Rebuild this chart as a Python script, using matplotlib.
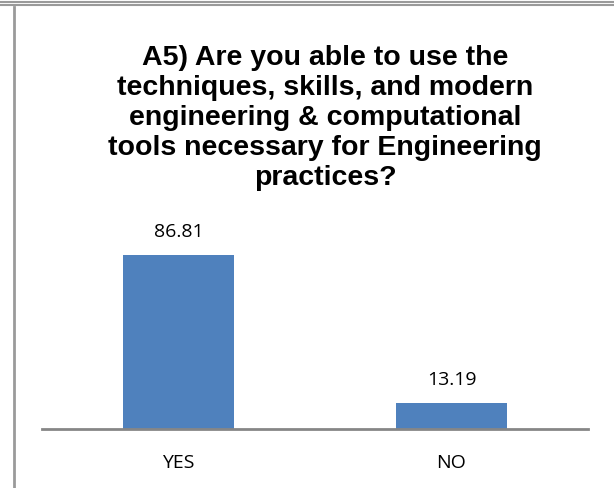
import matplotlib.pyplot as plt
from matplotlib.lines import Line2D

categories = ["YES", "NO"]
values = [86.81, 13.19]
title = ("A5) Are you able to use the\ntechniques, skills, and modern\n"
         "engineering & computational\ntools necessary for Engineering\npractices?")

W, H = 614, 488
fig = plt.figure(figsize=(W / 100, H / 100), dpi=100)
fig.patch.set_facecolor("white")

# frame lines from the original screenshot
fig.add_artist(Line2D([0, 1], [1 - 2 / H, 1 - 2 / H], color="#9a9a9a", lw=1.5))
fig.add_artist(Line2D([0, 1], [1 - 5 / H, 1 - 5 / H], color="#9a9a9a", lw=1.5))
fig.add_artist(Line2D([14 / W, 14 / W], [0, 1 - 7 / H], color="#9a9a9a", lw=2))

ax = fig.add_axes([42 / W, (H - 429) / H, 546 / W, 200 / H])
x = range(len(categories))
bars = ax.bar(x, values, width=0.403, color="#4F81BD")
ax.set_xlim(-0.5, 1.5)
ax.set_ylim(0, 100)

for b, v in zip(bars, values):
    ax.text(b.get_x() + b.get_width() / 2, v + 7, f"{v:.2f}", ha="center", va="bottom",
            fontsize=14, family="Open Sans")

ax.set_xticks(list(x))
ax.set_xticklabels(categories, fontsize=14, family="Open Sans")
ax.tick_params(axis="x", length=0, pad=18)
ax.set_yticks([])
for s in ["top", "right", "left"]:
    ax.spines[s].set_visible(False)
ax.spines["bottom"].set_color("#868686")
ax.spines["bottom"].set_linewidth(2)

fig.text(325 / W, 1 - 118 / H, title, ha="center", va="center", fontsize=20.5,
         fontweight="bold", family="Liberation Sans", linespacing=1.19)

plt.savefig("out.png", dpi=100)
